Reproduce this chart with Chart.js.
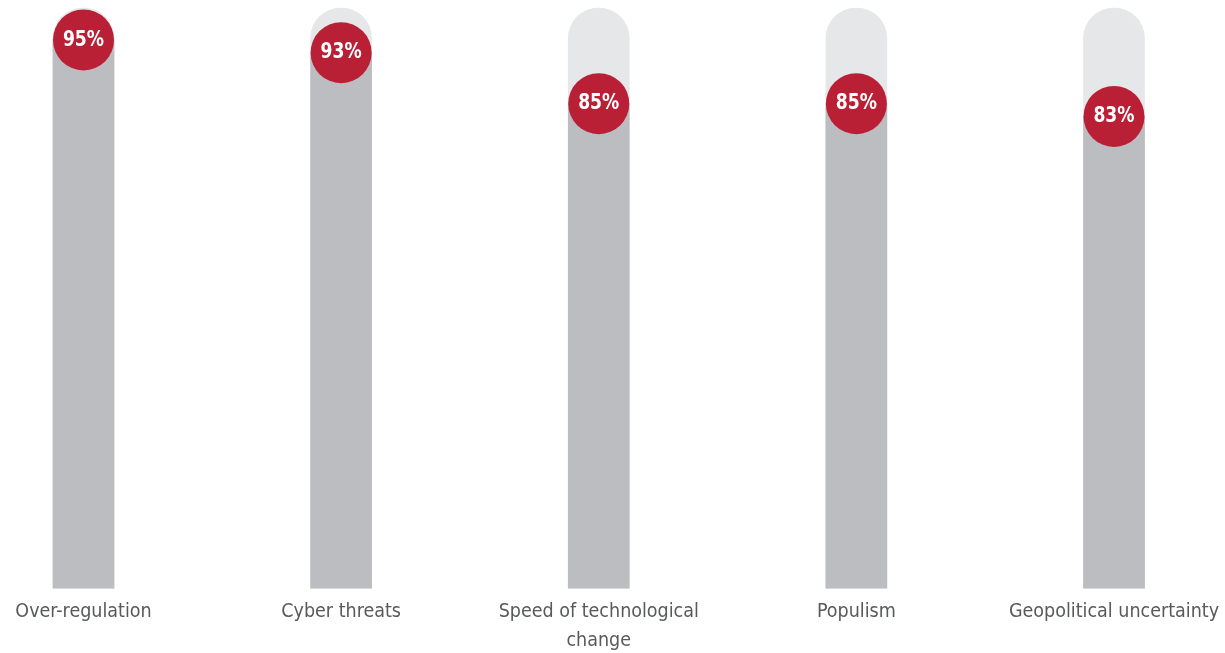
<!DOCTYPE html>
<html>
<head>
<meta charset="utf-8">
<style>
  html, body { margin: 0; padding: 0; background: #ffffff; }
  #wrap { width: 1225px; height: 653px; position: relative; }
</style>
<script src="https://cdn.jsdelivr.net/npm/chart.js@4/dist/chart.umd.min.js"></script>
</head>
<body>
<div id="wrap"><canvas id="c" width="1225" height="653"></canvas></div>
<script>
const categories = [
  "Over-regulation",
  "Cyber threats",
  ["Speed of technological", "change"],
  "Populism",
  "Geopolitical uncertainty"
];
const values = [95, 93, 85, 85, 83];
const fullScale = [100, 100, 100, 100, 100];
const valueLabels = ["95%", "93%", "85%", "85%", "83%"];
const yMin = 9;
const yMax = 100;

const FONT = '"DejaVu Sans Condensed", "DejaVu Sans", sans-serif';

const labelPlugin = {
  id: 'circleLabels',
  afterDatasetsDraw(chart) {
    const meta = chart.getDatasetMeta(0);
    const ctx = chart.ctx;
    meta.data.forEach((pt, i) => {
      ctx.save();
      ctx.translate(pt.x, pt.y);
      ctx.scale(0.87, 1);
      ctx.fillStyle = '#ffffff';
      ctx.font = 'bold 22px ' + FONT;
      ctx.textAlign = 'center';
      ctx.textBaseline = 'middle';
      ctx.fillText(valueLabels[i], 0, 0);
      ctx.restore();
    });
  }
};

new Chart(document.getElementById('c'), {
  type: 'bar',
  data: {
    labels: categories,
    datasets: [
      {
        type: 'line',
        data: values,
        showLine: false,
        pointRadius: 30.5,
        pointHoverRadius: 30.5,
        pointBackgroundColor: '#b91f35',
        pointBorderWidth: 0,
        borderColor: 'rgba(0,0,0,0)',
        clip: false,
        order: 0
      },
      {
        data: values,
        base: yMin,
        backgroundColor: '#bcbdc0',
        grouped: false,
        barThickness: 61,
        borderRadius: 0,
        clip: false,
        order: 1
      },
      {
        data: fullScale,
        base: yMin,
        backgroundColor: '#e6e7e8',
        grouped: false,
        barThickness: 61,
        borderRadius: { topLeft: 30.5, topRight: 30.5, bottomLeft: 0, bottomRight: 0 },
        borderSkipped: false,
        clip: false,
        order: 2
      }
    ]
  },
  plugins: [labelPlugin],
  options: {
    responsive: false,
    animation: false,
    events: [],
    layout: { autoPadding: false, padding: { top: 8, left: 83.5, right: 111, bottom: -11 } },
    plugins: {
      legend: { display: false },
      tooltip: { enabled: false }
    },
    scales: {
      x: {
        offset: false,
        grid: { display: false, drawTicks: false },
        border: { display: false },
        afterFit: (scale) => { scale.paddingLeft = 0; scale.paddingRight = 0; },
        ticks: {
          color: '#58595b',
          font: { family: FONT, size: 19.5, lineHeight: 1.48 },
          padding: 9,
          maxRotation: 0,
          autoSkip: false
        }
      },
      y: {
        display: false,
        min: yMin,
        max: yMax
      }
    }
  }
});
</script>
</body>
</html>
